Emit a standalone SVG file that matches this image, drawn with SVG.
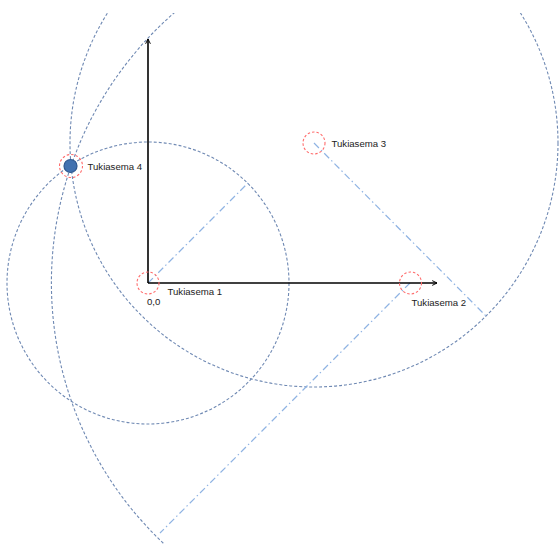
<svg xmlns="http://www.w3.org/2000/svg" width="559" height="544" viewBox="0 0 559 544">
<style>
.range{fill:none;stroke:#6f89b3;stroke-width:1.1;stroke-dasharray:3 2}
.radius{fill:none;stroke:#8fb3e3;stroke-width:1.2;stroke-dasharray:7 3 1.5 3}
.axis{fill:none;stroke:#000;stroke-width:1.6}
.mark{fill:none;stroke:#ff6b6b;stroke-width:1.1;stroke-dasharray:2.5 2}
.lbl{font-family:"Liberation Sans",Arial,sans-serif;font-size:9.6px;fill:#222}
</style>
<defs>
<clipPath id="clip"><rect x="0" y="13" width="559" height="531"/></clipPath>
<marker id="arr" viewBox="0 0 10 10" refX="9" refY="5" markerWidth="6" markerHeight="6" markerUnits="userSpaceOnUse" orient="auto">
<path d="M1,1 L9,5 L1,9" fill="none" stroke="#000" stroke-width="1.6"/>
</marker>
</defs>
<rect width="559" height="544" fill="#fff"/>
<g id="connectors" clip-path="url(#clip)">
<circle class="range" cx="148" cy="283" r="141"/>
<circle class="range" cx="410" cy="283" r="358.6"/>
<circle class="range" cx="314" cy="143" r="244"/>
<line class="radius" x1="148" y1="283" x2="248" y2="183"/>
<line class="radius" x1="314" y1="143" x2="486" y2="316"/>
<line class="radius" x1="410" y1="283" x2="160" y2="533"/>
<line class="axis" x1="148" y1="283" x2="148" y2="39" marker-end="url(#arr)"/>
<line class="axis" x1="148" y1="283" x2="437" y2="283" marker-end="url(#arr)"/>
</g>
<g id="tukiasema1">
<circle class="mark" cx="148" cy="283" r="11"/>
<text class="lbl" x="167.5" y="295">Tukiasema 1</text>
<text class="lbl" x="147" y="305">0,0</text>
</g>
<g id="tukiasema2">
<circle class="mark" cx="410.5" cy="283" r="11"/>
<text class="lbl" x="411.5" y="306">Tukiasema 2</text>
</g>
<g id="tukiasema3">
<circle class="mark" cx="314" cy="143" r="11"/>
<text class="lbl" x="331.5" y="147">Tukiasema 3</text>
</g>
<g id="tukiasema4">
<circle class="mark" cx="71" cy="166" r="11.5"/>
<circle cx="70.5" cy="166" r="6.5" fill="#4272b0" stroke="#2f5890" stroke-width="1.2"/>
<text class="lbl" x="87.5" y="170">Tukiasema 4</text>
</g>
</svg>
